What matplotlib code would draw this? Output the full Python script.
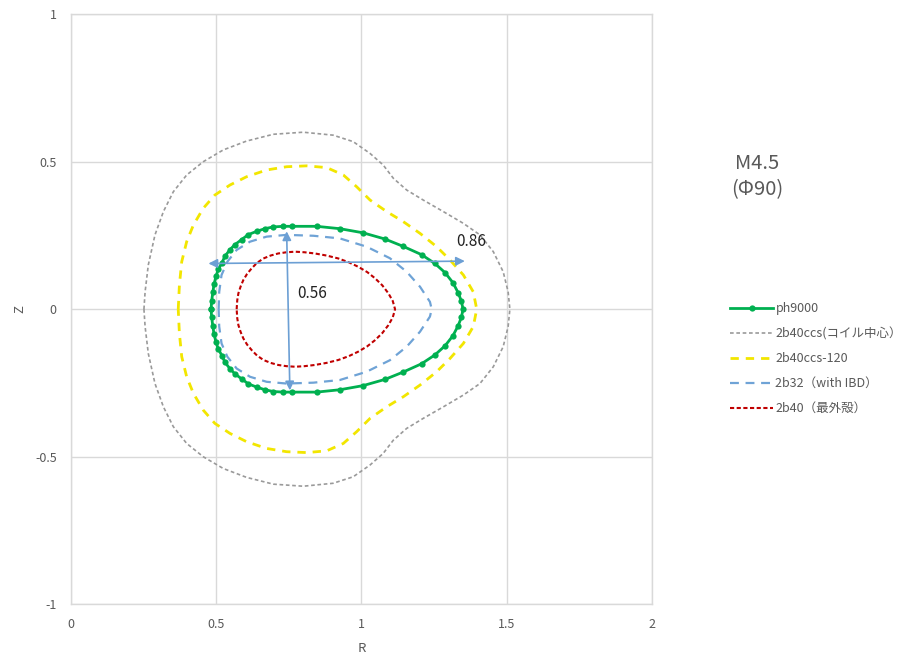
import matplotlib
matplotlib.use("Agg")
import matplotlib.pyplot as plt

plt.rcParams['font.family'] = ['Noto Sans CJK JP', 'DejaVu Sans']

# ph9000 boundary (markers are the computed points)
ph9000_R = [0.483, 0.485, 0.489, 0.493, 0.500, 0.508, 0.520, 0.531, 0.548, 0.565,
            0.588, 0.611, 0.640, 0.668, 0.697, 0.731, 0.760, 0.846, 0.926, 1.006,
            1.081, 1.144, 1.207, 1.253, 1.288, 1.315, 1.333, 1.344, 1.350,
            1.344, 1.333, 1.315, 1.288, 1.253, 1.207, 1.144, 1.081, 1.006, 0.926,
            0.846, 0.760, 0.731, 0.697, 0.668, 0.640, 0.611, 0.588, 0.565, 0.548,
            0.531, 0.520, 0.508, 0.500, 0.493, 0.489, 0.485, 0.483]
ph9000_Z = [0.000, 0.028, 0.057, 0.084, 0.112, 0.135, 0.157, 0.180, 0.202, 0.219,
            0.236, 0.253, 0.264, 0.273, 0.279, 0.281, 0.281, 0.281, 0.273, 0.259,
            0.238, 0.213, 0.185, 0.155, 0.124, 0.090, 0.056, 0.028, 0.000,
            -0.028, -0.056, -0.090, -0.124, -0.155, -0.185, -0.213, -0.238, -0.259, -0.273,
            -0.281, -0.281, -0.281, -0.279, -0.273, -0.264, -0.253, -0.236, -0.219, -0.202,
            -0.180, -0.157, -0.135, -0.112, -0.084, -0.057, -0.028, 0.000]

# 2b40ccs (coil centre)
ccs_R = [0.252, 0.256, 0.267, 0.290, 0.319, 0.353, 0.399, 0.456, 0.525, 0.605,
         0.697, 0.800, 0.903, 0.972, 1.030, 1.075, 1.110, 1.156, 1.213, 1.282,
         1.351, 1.408, 1.454, 1.488, 1.505, 1.511,
         1.505, 1.488, 1.454, 1.408, 1.351, 1.282, 1.213, 1.156, 1.110, 1.075,
         1.030, 0.972, 0.903, 0.800, 0.697, 0.605, 0.525, 0.456, 0.399, 0.353,
         0.319, 0.290, 0.267, 0.256, 0.252]
ccs_Z = [0.000, 0.059, 0.150, 0.252, 0.331, 0.398, 0.455, 0.500, 0.540, 0.570,
         0.593, 0.600, 0.590, 0.568, 0.528, 0.489, 0.444, 0.404, 0.370, 0.331,
         0.291, 0.252, 0.195, 0.127, 0.059, 0.000,
         -0.059, -0.127, -0.195, -0.252, -0.291, -0.331, -0.370, -0.404, -0.444, -0.489,
         -0.528, -0.568, -0.590, -0.600, -0.593, -0.570, -0.540, -0.500, -0.455, -0.398,
         -0.331, -0.252, -0.150, -0.059, 0.000]

# 2b40ccs-120
ccs120_R = [0.370, 0.374, 0.382, 0.399, 0.422, 0.456, 0.496, 0.548, 0.605, 0.674,
            0.743, 0.812, 0.881, 0.938, 0.984, 1.030, 1.087, 1.144, 1.202, 1.259,
            1.305, 1.351, 1.385, 1.397,
            1.385, 1.351, 1.305, 1.259, 1.202, 1.144, 1.087, 1.030, 0.984, 0.938,
            0.881, 0.812, 0.743, 0.674, 0.605, 0.548, 0.496, 0.456, 0.422, 0.399,
            0.382, 0.374, 0.370]
ccs120_Z = [0.000, 0.082, 0.161, 0.229, 0.285, 0.342, 0.387, 0.421, 0.449, 0.472,
            0.483, 0.486, 0.480, 0.455, 0.415, 0.370, 0.331, 0.297, 0.257, 0.212,
            0.167, 0.116, 0.059, 0.000,
            -0.059, -0.116, -0.167, -0.212, -0.257, -0.297, -0.331, -0.370, -0.415, -0.455,
            -0.480, -0.486, -0.483, -0.472, -0.449, -0.421, -0.387, -0.342, -0.285, -0.229,
            -0.161, -0.082, 0.000]

# 2b32 (with IBD)
b32_R = [0.509, 0.511, 0.519, 0.539, 0.571, 0.617, 0.674, 0.743, 0.835, 0.926,
         1.018, 1.098, 1.156, 1.202, 1.236, 1.242,
         1.236, 1.202, 1.156, 1.098, 1.018, 0.926, 0.835, 0.743, 0.674, 0.617,
         0.571, 0.539, 0.519, 0.511, 0.509]
b32_Z = [0.000, 0.059, 0.116, 0.161, 0.201, 0.229, 0.246, 0.252, 0.249, 0.240,
         0.212, 0.173, 0.127, 0.076, 0.025, 0.000,
         -0.025, -0.076, -0.127, -0.173, -0.212, -0.240, -0.249, -0.252, -0.246, -0.229,
         -0.201, -0.161, -0.116, -0.059, 0.000]

# 2b40 (outermost surface)
b40_R = [0.571, 0.573, 0.577, 0.585, 0.594, 0.607, 0.623, 0.641, 0.663, 0.688,
         0.714, 0.742, 0.772, 0.805, 0.840, 0.880, 0.921, 0.957, 0.989, 1.020,
         1.047, 1.072, 1.093, 1.108, 1.116,
         1.108, 1.093, 1.072, 1.047, 1.020, 0.989, 0.957, 0.921, 0.880, 0.840,
         0.805, 0.772, 0.742, 0.714, 0.688, 0.663, 0.641, 0.623, 0.607, 0.594,
         0.585, 0.577, 0.573, 0.571]
b40_Z = [0.000, 0.030, 0.054, 0.078, 0.099, 0.120, 0.139, 0.157, 0.172, 0.182,
         0.189, 0.193, 0.195, 0.193, 0.189, 0.182, 0.172, 0.159, 0.144, 0.126,
         0.105, 0.081, 0.054, 0.028, 0.000,
         -0.028, -0.054, -0.081, -0.105, -0.126, -0.144, -0.159, -0.172, -0.182, -0.189,
         -0.193, -0.195, -0.193, -0.189, -0.182, -0.172, -0.157, -0.139, -0.120, -0.099,
         -0.078, -0.054, -0.030, 0.000]

labels = ["ph9000", "2b40ccs(コイル中心）", "2b40ccs-120", "2b32（with IBD）", "2b40（最外殻）"]

# dimension arrows: width 0.86, height 0.56
width_arrow = ([0.474, 1.356], [0.155, 0.163])
height_arrow = ([0.743, 0.754], [0.264, -0.275])
width_text = ("0.86", 1.379, 0.230)
height_text = ("0.56", 0.829, 0.054)

x_ticks = [0, 0.5, 1, 1.5, 2]
x_ticklabels = ["0", "0.5", "1", "1.5", "2"]
y_ticks = [-1, -0.5, 0, 0.5, 1]
y_ticklabels = ["-1", "-0.5", "0", "0.5", "1"]

fig = plt.figure(figsize=(9.11, 6.61), dpi=100)
ax = fig.add_axes([0.0776, 0.0859, 0.6381, 0.8926])

grid_c = "#d9d9d9"
text_c = "#595959"

h1, = ax.plot(ph9000_R, ph9000_Z, color="#00b050", lw=2.0, marker="o", ms=4.5,
              markeredgewidth=0, zorder=5)
h2, = ax.plot(ccs_R, ccs_Z, color="#9a9a9a", lw=1.2, dashes=(2.2, 1.6), zorder=3)
h3, = ax.plot(ccs120_R, ccs120_Z, color="#f2e600", lw=2.0, dashes=(3.0, 2.5), zorder=3)
h4, = ax.plot(b32_R, b32_Z, color="#6fa3d6", lw=1.6, dashes=(4.0, 3.0), zorder=3)
h5, = ax.plot(b40_R, b40_Z, color="#c00000", lw=1.5, dashes=(2.0, 1.2), zorder=3)

arrow_c = "#6c9fd4"
for (xs, ys) in (width_arrow, height_arrow):
    ax.annotate("", xy=(xs[1], ys[1]), xytext=(xs[0], ys[0]),
                arrowprops=dict(arrowstyle="<|-|>", color=arrow_c, lw=1.2,
                                mutation_scale=13, shrinkA=0, shrinkB=0), zorder=6)

for t, x, y in (width_text, height_text):
    ax.text(x, y, t, fontsize=11, color="#222222", ha="center", va="center", zorder=7)

ax.set_xlim(0, 2)
ax.set_ylim(-1, 1)
ax.set_xticks(x_ticks)
ax.set_xticklabels(x_ticklabels)
ax.set_yticks(y_ticks)
ax.set_yticklabels(y_ticklabels)
ax.grid(True, color=grid_c, lw=1.0, zorder=0)
ax.set_axisbelow(True)
for s in ax.spines.values():
    s.set_color(grid_c)
    s.set_linewidth(1.0)
ax.tick_params(length=0, labelsize=9, labelcolor=text_c, pad=10)
ax.set_xlabel("R", fontsize=9.5, color=text_c, labelpad=8)
ax.set_ylabel("Z", fontsize=9.5, color=text_c, labelpad=6)

fig.text(0.831, 0.733, "M4.5\n(Φ90)", fontsize=14.5, color=text_c, ha="center",
         va="center", linespacing=1.3)

fig.legend([h1, h2, h3, h4, h5], labels, loc="upper left",
           bbox_to_anchor=(0.795, 0.552), frameon=False, fontsize=9,
           handlelength=3.4, handletextpad=0.2, labelspacing=0.95,
           borderpad=0, labelcolor=text_c)

fig.savefig("out.png", dpi=100, facecolor="white")
